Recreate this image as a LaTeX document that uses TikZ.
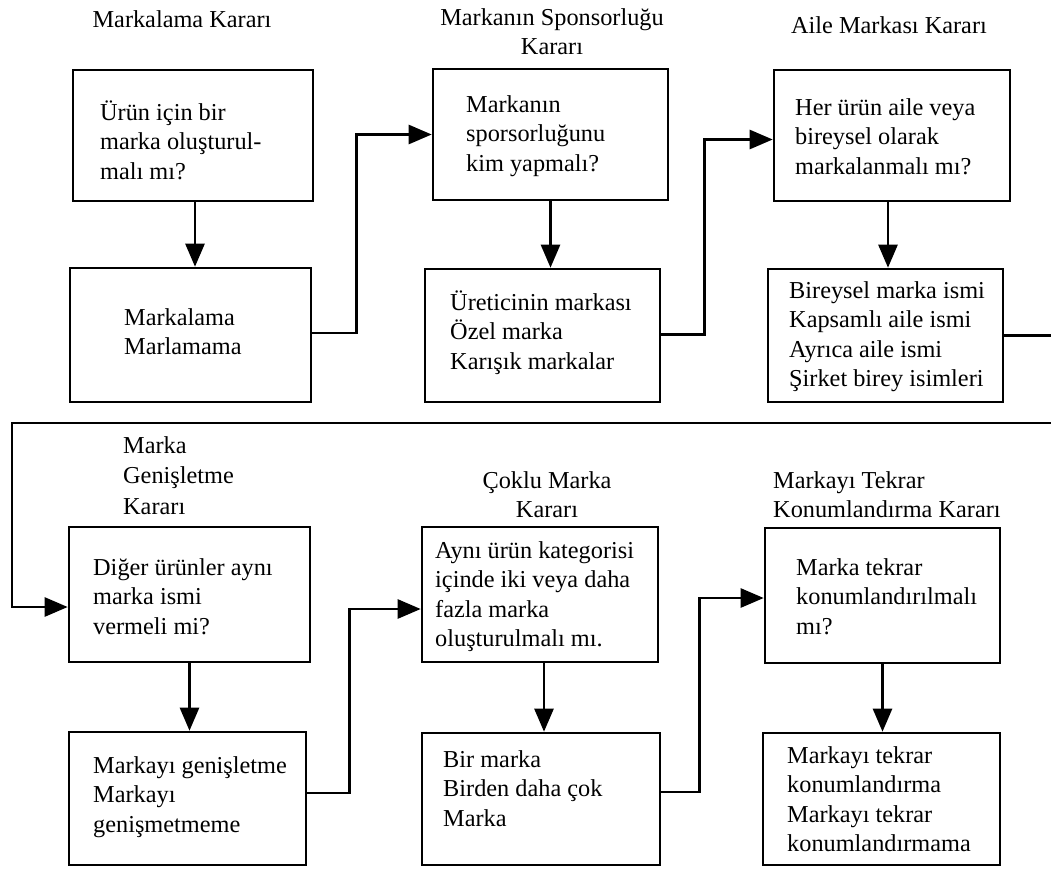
\documentclass[tikz,border=0pt]{standalone}
\usepackage{fontspec}
\setmainfont{Liberation Serif}
\usetikzlibrary{arrows.meta}
\newcommand\myleft[1]{\begin{tabular}[t]{@{}l@{}}#1\end{tabular}}
\newcommand\mycenter[1]{\begin{tabular}[t]{@{}c@{}}#1\end{tabular}}
\begin{document}
\begin{tikzpicture}[x=1pt,y=-1pt,
  every node/.style={font=\fontsize{24.3}{29.5}\selectfont},
  box/.style={draw, line width=2.6pt, inner sep=0pt},
  txt/.style={anchor=base west, inner sep=0pt},
  hdr/.style={anchor=base, inner sep=0pt},
  conn/.style={line width=2.6pt},
  arr/.style={line width=2.6pt, -{Triangle[length=23pt,width=19pt]}}]
\useasboundingbox (0,0) rectangle (1051,868);
% boxes
\node[box, minimum width=240pt, minimum height=131pt] (A1) at (193,135.5) {};
\node[box, minimum width=241pt, minimum height=134pt] (A2) at (190.5,335) {};
\node[box, minimum width=235pt, minimum height=131pt] (B1) at (550.5,134.5) {};
\node[box, minimum width=235pt, minimum height=133pt] (B2) at (542.5,335.5) {};
\node[box, minimum width=236pt, minimum height=131pt] (C1) at (892,135.5) {};
\node[box, minimum width=235pt, minimum height=133pt] (C2) at (885.5,335.5) {};
\node[box, minimum width=241pt, minimum height=135pt] (D1) at (189.5,594.5) {};
\node[box, minimum width=237pt, minimum height=133pt] (D2) at (187.5,798.5) {};
\node[box, minimum width=236pt, minimum height=135pt] (E1) at (540,594.5) {};
\node[box, minimum width=238pt, minimum height=132pt] (E2) at (541,799) {};
\node[box, minimum width=235pt, minimum height=135pt] (F1) at (882.5,595.5) {};
\node[box, minimum width=237pt, minimum height=132pt] (F2) at (881.5,799) {};
% headers
\node[hdr] (hA) at (182,27) {Markalama Kararı};
\node[hdr] (hB) at (552,25) {\mycenter{Markanın Sponsorluğu\\Kararı}};
\node[hdr] (hC) at (889,33) {Aile Markası Kararı};
\node[txt] (hD) at (123,453) {\begin{tabular}[t]{@{}l@{}}Marka\\[1pt]Genişletme\\[1pt]Kararı\end{tabular}};
\node[hdr] (hE) at (547,488) {\mycenter{Çoklu Marka\\Kararı}};
\node[txt] (hF) at (773,488) {\myleft{Markayı Tekrar\\Konumlandırma Kararı}};
% box texts
\node[txt] (tA1) at (100,120) {\myleft{Ürün için bir\\marka oluşturul-\\malı mı?}};
\node[txt] (tA2) at (124,325) {\myleft{Markalama\\Marlamama}};
\node[txt] (tB1) at (466,112) {\myleft{Markanın\\sporsorluğunu\\kim yapmalı?}};
\node[txt] (tB2) at (450,310) {\myleft{Üreticinin markası\\Özel marka\\Karışık markalar}};
\node[txt] (tC1) at (795,115) {\myleft{Her ürün aile veya\\bireysel olarak\\markalanmalı mı?}};
\node[txt] (tC2) at (789,298) {\myleft{Bireysel marka ismi\\Kapsamlı aile ismi\\Ayrıca aile ismi\\Şirket birey isimleri}};
\node[txt] (tD1) at (93,575) {\myleft{Diğer ürünler aynı\\marka ismi\\vermeli mi?}};
\node[txt] (tD2) at (93,773) {\myleft{Markayı genişletme\\Markayı\\genişmetmeme}};
\node[txt] (tE1) at (435,558) {\myleft{Aynı ürün kategorisi\\içinde iki veya daha\\fazla marka\\oluşturulmalı mı.}};
\node[txt] (tE2) at (443,767) {\myleft{Bir marka\\Birden daha çok\\Marka}};
\node[txt] (tF1) at (796,575) {\myleft{Marka tekrar\\konumlandırılmalı\\mı?}};
\node[txt] (tF2) at (787,763) {\myleft{Markayı tekrar\\konumlandırma\\Markayı tekrar\\konumlandırmama}};
% vertical arrows
\draw[arr] ([xshift=2pt]A1.south) -- ([xshift=2pt]A1.south |- A2.north);
\draw[arr] (B1.south) -- (B1.south |- B2.north);
\draw[arr] ([xshift=-4pt]C1.south) -- ([xshift=-4pt]C1.south |- C2.north);
\draw[arr] (D1.south) -- (D1.south |- D2.north);
\draw[arr] ([xshift=4pt]E1.south) -- ([xshift=4pt]E1.south |- E2.north);
\draw[arr] (F1.south) -- (F1.south |- F2.north);
% elbow connectors
\draw[arr] ([yshift=2pt]A2.east) -- ++(44,0) |- (B1.west);
\draw[arr] ([yshift=1pt]B2.east) -- ++(43,0) |- ([yshift=-4pt]C1.west);
\coordinate (offR) at (1051,334);
\coordinate (retR) at (1051,423);
\coordinate (retL) at (12,423);
\draw[conn] (C2.east) -- (C2.east -| offR);
\draw[arr] (retR) -- (retL) |- ([yshift=-12.5pt]D1.west);
\draw[arr] ([yshift=5.5pt]D2.east) -- ++(42,0) |- ([yshift=-14.5pt]E1.west);
\draw[arr] ([yshift=7pt]E2.east) -- ++(38,0) |- ([yshift=-2.5pt]F1.west);
\end{tikzpicture}
\end{document}
